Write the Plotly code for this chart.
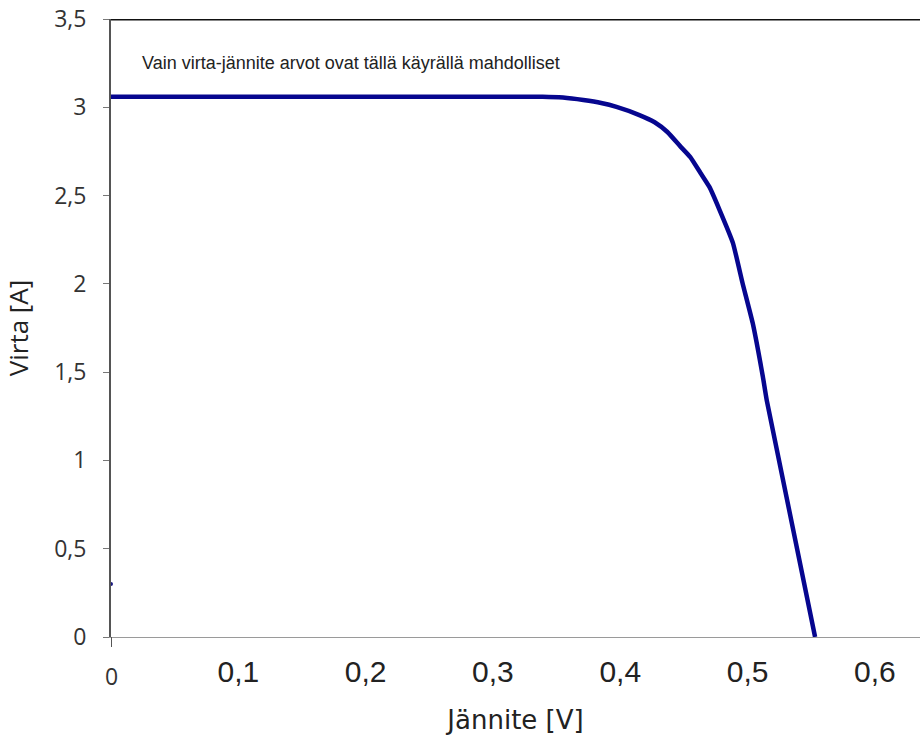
import plotly.graph_objects as go

# I-V curve of a solar cell
voltage = [0.0, 0.10, 0.20, 0.30, 0.339, 0.355, 0.371, 0.385, 0.397, 0.415,
           0.427, 0.437, 0.447, 0.455, 0.463, 0.470, 0.478, 0.4885, 0.496,
           0.504, 0.512, 0.515, 0.553]
current = [3.06, 3.06, 3.06, 3.06, 3.06, 3.055, 3.041, 3.024, 3.002, 2.956,
           2.915, 2.860, 2.780, 2.718, 2.628, 2.549, 2.418, 2.231, 2.005,
           1.778, 1.473, 1.342, 0.0]

x_tick_vals = [0.1, 0.2, 0.3, 0.4, 0.5, 0.6]
x_tick_text = ["0,1", "0,2", "0,3", "0,4", "0,5", "0,6"]
y_tick_vals = [0, 0.5, 1, 1.5, 2, 2.5, 3, 3.5]
y_tick_text = ["0", "0,5", "1", "1,5", "2", "2,5", "3", "3,5"]

stray_x = [0.0]
stray_y = [0.3]

note = "Vain virta-jännite arvot ovat tällä käyrällä mahdolliset"

fig = go.Figure()
fig.add_trace(go.Scatter(
    x=voltage, y=current, mode="lines",
    line=dict(color="#06068f", width=4.5, shape="spline", smoothing=0.4),
    hoverinfo="skip", showlegend=False, cliponaxis=False))
fig.add_trace(go.Scatter(
    x=stray_x, y=stray_y, mode="markers",
    marker=dict(color="#1a1a80", size=4), showlegend=False, cliponaxis=False))

fig.update_layout(
    width=920, height=737,
    margin=dict(l=111, r=0, t=19, b=100, autoexpand=False),
    paper_bgcolor="white", plot_bgcolor="white",
    showlegend=False,
    xaxis=dict(
        range=[0, 0.6354], tickvals=x_tick_vals, ticktext=x_tick_text,
        showgrid=False, zeroline=False, showline=True, linecolor="#9a9a9a",
        linewidth=1, ticks="", ticklabelstandoff=8, ticklabeloverflow="allow",
        automargin=False,
        tickfont=dict(family="Liberation Sans, Arial", size=30, color="#222"),
        title=dict(text="Jännite [V]", standoff=23,
                   font=dict(family="DejaVu Sans", size=26, color="#222")),
    ),
    yaxis=dict(
        range=[0, 3.5], tickvals=y_tick_vals, ticktext=y_tick_text,
        showgrid=False, zeroline=False, showline=True, linecolor="#555",
        linewidth=2, ticks="outside", ticklen=6, tickcolor="#777", tickwidth=1,
        ticklabelstandoff=12, ticklabeloverflow="allow", automargin=False,
        tickfont=dict(family="Open Sans", size=23, color="#333"),
        title=dict(text="Virta [A]", standoff=24,
                   font=dict(family="Open Sans", size=26, color="#222")),
    ),
    shapes=[
        dict(type="line", xref="paper", yref="y", x0=0, x1=1, y0=3.5, y1=3.5,
             line=dict(color="#111", width=3)),
        dict(type="line", xref="x", yref="paper", x0=0, x1=0, y0=0, y1=-0.016,
             line=dict(color="#555", width=2)),
    ],
    annotations=[
        dict(text=note, xref="x", yref="y", x=0.0228, y=3.251, xanchor="left",
             yanchor="middle", showarrow=False,
             font=dict(family="Liberation Sans, Arial", size=18, color="#222")),
        dict(text="0", xref="x", yref="paper", x=0, y=0, xanchor="center",
             yanchor="top", yshift=-21, showarrow=False,
             font=dict(family="Open Sans", size=23, color="#333")),
    ],
)

fig.write_html(
    "out.html",
    config={"displayModeBar": False},
    post_script="document.body.style.margin='0';document.body.style.overflow='hidden';",
)
